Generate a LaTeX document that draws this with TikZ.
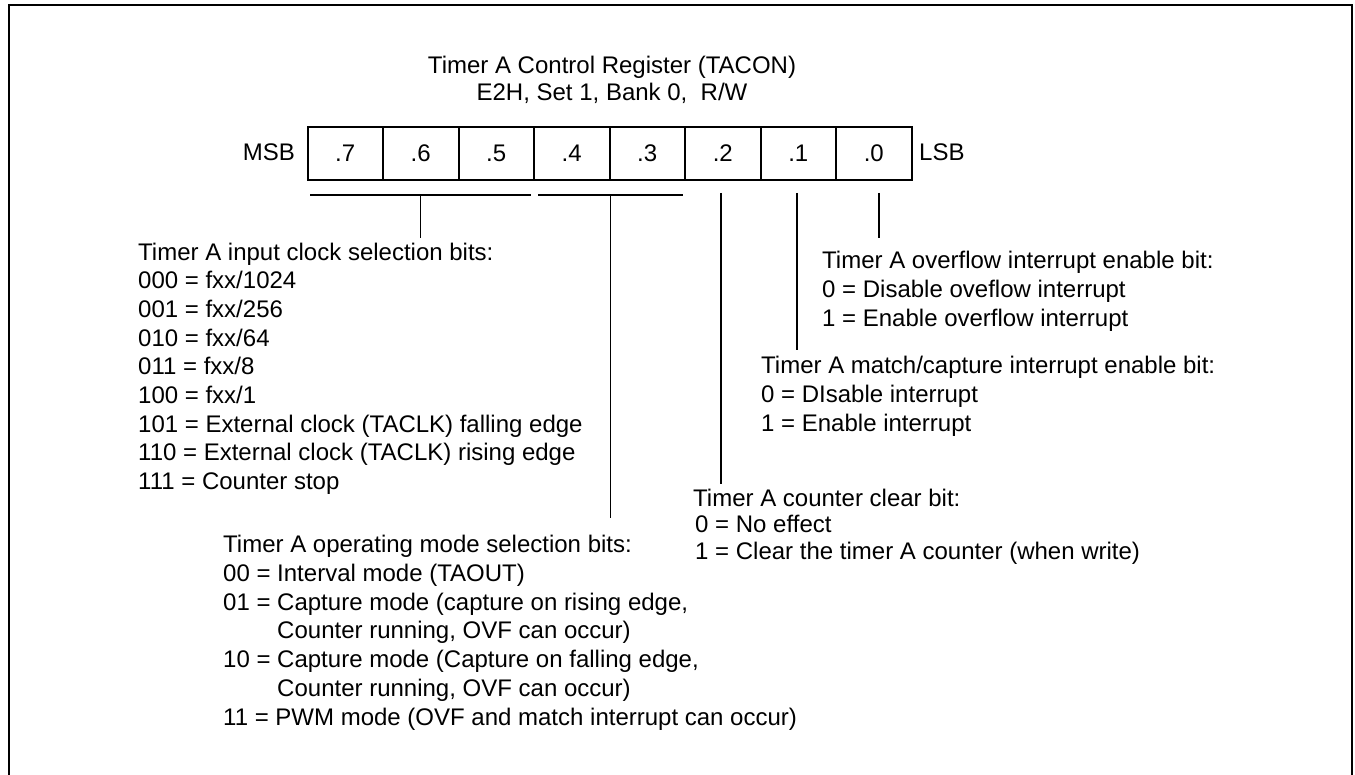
\documentclass[tikz,border=0pt]{standalone}
\usepackage{fontspec}
\setmainfont{Liberation Sans}
\usetikzlibrary{positioning, calc}

\begin{document}
\begin{tikzpicture}[
        x=1pt, y=-1pt,
        every node/.style={font=\fontsize{24}{28.7}\selectfont, inner sep=0pt},
        bitcell/.style={draw, line width=2pt, minimum width=75.5pt, minimum height=53pt, anchor=north west},
        bracket/.style={line width=2.4pt},
        lead/.style={line width=1.6pt},
        desc/.style={align=left, anchor=base west}
    ]
        \useasboundingbox (0,0) rectangle (1355,775);
        \draw[line width=2.8pt] (9,775) -- (9,5) -- (1352,5) -- (1352,775);

        % anchor base = baseline of the last line
        \node[align=center, anchor=base, font=\fontsize{24}{27}\selectfont] (title) at (612,101)
            {Timer A Control Register (TACON)\\E2H, Set 1, Bank 0,\ \ R/W};

        \foreach \b [count=\i from 0] in {7,...,0} {
            \node[bitcell] (c\b) at ({306.5+75.5*\i},126) {.\b};
        }
        \node[anchor=east] (msb) at (295,152.5) {MSB};
        \node[anchor=west] (lsb) at (919,152.5) {LSB};

        % brackets under the bit fields
        \coordinate (k1a) at ($(c7.south west)+(3.5,14)$);
        \coordinate (k1b) at ($(c5.south east)+(-4,14)$);
        \coordinate (k2a) at ($(c4.south west)+(5,14)$);
        \coordinate (k2b) at ($(c3.south east)+(-3,14)$);
        \draw[bracket] (k1a) -- (k1b);
        \draw[bracket] (k2a) -- (k2b);

        \node[desc] (clk) at (138,489.6) {Timer A input clock selection bits:\\
            000 = fxx/1024\\001 = fxx/256\\010 = fxx/64\\011 = fxx/8\\100 = fxx/1\\
            101 = External clock (TACLK) falling edge\\
            110 = External clock (TACLK) rising edge\\
            111 = Counter stop};
        \node[desc] (mode) at (223,725) {Timer A operating mode selection bits:\\
            00 = Interval mode (TAOUT)\\
            01 = Capture mode (capture on rising edge,\\
            \hphantom{01 = }Counter running, OVF can occur)\\
            10 = Capture mode (Capture on falling edge,\\
            \hphantom{10 = }Counter running, OVF can occur)\\
            11 = PWM mode (OVF and match interrupt can occur)};
        \node[desc, font=\fontsize{24}{26.5}\selectfont] (clr) at (693,559) {Timer A counter clear bit:\\
            \kern2pt 0 = No effect\\
            \kern2pt 1 = Clear the timer A counter (when write)};
        \node[desc] (mci) at (761,431.4) {Timer A match/capture interrupt enable bit:\\
            0 = DIsable interrupt\\1 = Enable interrupt};
        \node[desc] (ovf) at (822,326.4) {Timer A overflow interrupt enable bit:\\
            0 = Disable oveflow interrupt\\1 = Enable overflow interrupt};

        % leads from the fields down to their notes
        \coordinate (t75) at ($(k1a)!0.5!(k1b)$);
        \coordinate (t43) at ($(k2a)!0.5!(k2b)$);
        \draw[lead] (t75) -- (t75 |- 0,238);
        \draw[lead] (t43) -- (t43 |- 0,518);
        \draw[lead] (721,193) -- (721,484);
        \draw[lead] (797,193) -- (797,350);
        \draw[lead] (879,193) -- (879,238);
    \end{tikzpicture}
\end{document}
